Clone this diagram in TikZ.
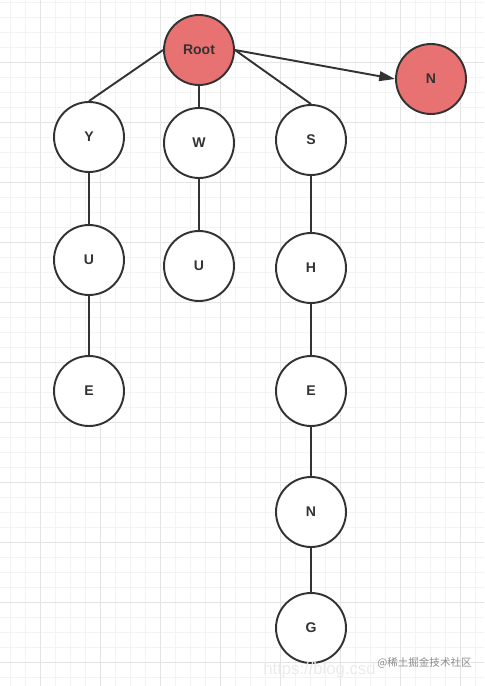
\documentclass[tikz,border=0pt]{standalone}
\usepackage{fontspec}
\setsansfont{Liberation Sans}
\newfontfamily\cjk{Noto Sans CJK SC}
\usepackage{tikz}
\usetikzlibrary{arrows.meta}

\definecolor{rootred}{RGB}{232,114,113}
\definecolor{edgegray}{RGB}{51,51,51}
\definecolor{minorgrid}{RGB}{243,243,243}
\definecolor{majorgrid}{RGB}{228,228,228}

\begin{document}
\begin{tikzpicture}[
            x=0.02cm, y=-0.02cm,
            main node/.style={circle,fill=white,draw=edgegray,line width=1.1pt,text=edgegray, minimum size=1.4cm, inner sep=1pt, font=\sffamily\bfseries\fontsize{8}{9}\selectfont},
            red node/.style={main node, fill=rootred},
            edge/.style={draw=edgegray, line width=1.1pt},
            ]
            \useasboundingbox (0,0) rectangle (484,686);

            % grid
            \foreach \x in {10,25,...,475} \draw[minorgrid, line width=0.35pt] (\x,0) -- (\x,686);
            \foreach \y in {2,17,...,677} \draw[minorgrid, line width=0.35pt] (0,\y) -- (484,\y);
            \foreach \x in {40,100,...,460} \draw[majorgrid, line width=0.45pt] (\x,0) -- (\x,686);
            \foreach \y in {62,122,...,662} \draw[majorgrid, line width=0.45pt] (0,\y) -- (484,\y);

            \node[red node] (root) at (199,50) {Root};
            \node[red node] (n1) at (431,79) {N};

            \node[main node] (y) at (89,137) {Y};
            \node[main node] (u1) at (89,260) {U};
            \node[main node] (e1) at (89,391) {E};

            \node[main node] (w) at (199,143) {W};
            \node[main node] (u2) at (199,266) {U};

            \node[main node] (s) at (311,140) {S};
            \node[main node] (h) at (311,268) {H};
            \node[main node] (e2) at (311,391) {E};
            \node[main node] (n2) at (311,512) {N};
            \node[main node] (g) at (311,628) {G};

            \draw[edge] (root.west) -- (y.north);
            \draw[edge] (root.south) -- (w.north);
            \draw[edge] (root.east) -- (s.north);
            \draw[edge, -{Stealth[length=9pt, width=5.5pt, inset=0pt]}] (root.east) -- (n1.west);
            \draw[edge] (y) -- (u1);
            \draw[edge] (u1) -- (e1);
            \draw[edge] (w) -- (u2);
            \draw[edge] (s) -- (h);
            \draw[edge] (h) -- (e2);
            \draw[edge] (e2) -- (n2);
            \draw[edge] (n2) -- (g);

            % watermark
            \node[anchor=west, text=black!8, font=\sffamily\fontsize{9.5}{11}\selectfont, inner sep=0pt] (url) at (263,670) {https://blog.csd};
            \node[anchor=east, text=black!45, font=\cjk\fontsize{6}{7}\selectfont, inner sep=0pt] (mark) at (472,663) {@稀土掘金技术社区};
        \end{tikzpicture}
\end{document}
